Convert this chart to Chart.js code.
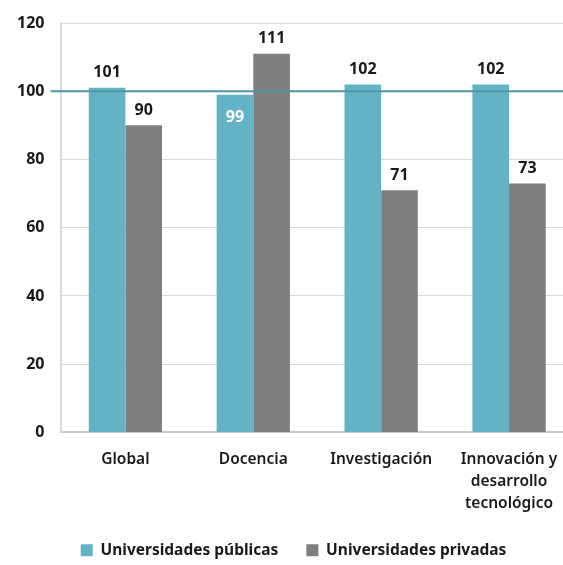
<!DOCTYPE html>
<html>
<head>
<meta charset="utf-8">
<script src="https://cdn.jsdelivr.net/npm/chart.js@4.4.0/dist/chart.umd.min.js"></script>
<style>
  html, body { margin: 0; padding: 0; background: #fff; overflow: hidden; }
  #wrap { width: 575px; height: 565px; position: relative; }
</style>
</head>
<body>
<div id="wrap"><canvas id="chart"></canvas></div>
<script>
const categories = ['Global', 'Docencia', 'Investigación', ['Innovación y', 'desarrollo', 'tecnológico']];
const publicas = [101, 99, 102, 102];
const privadas = [90, 111, 71, 73];
const seriesNames = ['Universidades públicas', 'Universidades privadas'];
const yTicks = [0, 20, 40, 60, 80, 100, 120];
const refValue = 100;

const tealColor = '#63b3c6';
const grayColor = '#7f7f7f';
const refColor = '#4b95a4';
const numFont = '"Open Sans", "DejaVu Sans", sans-serif';
const textFont = '"Noto Sans", "Open Sans", sans-serif';

// reference line at 100, drawn over the bars
const refLine = {
  id: 'refLine',
  afterDatasetsDraw(chart) {
    const ctx = chart.ctx;
    const y = chart.scales.y.getPixelForValue(refValue);
    ctx.save();
    ctx.strokeStyle = refColor;
    ctx.lineWidth = 2;
    ctx.beginPath();
    ctx.moveTo(chart.chartArea.left - 11, y);
    ctx.lineTo(chart.width, y);
    ctx.stroke();
    ctx.restore();
  }
};

// value labels; the one that would sit on the line goes inside the bar
const barLabels = {
  id: 'barLabels',
  afterDraw(chart) {
    const ctx = chart.ctx;
    ctx.save();
    ctx.font = 'bold 16px ' + numFont;
    ctx.textAlign = 'center';
    ctx.textBaseline = 'middle';
    chart.data.datasets.forEach((ds, i) => {
      chart.getDatasetMeta(i).data.forEach((bar, j) => {
        const v = ds.data[j];
        if (i === 0 && v < refValue) {
          ctx.fillStyle = '#ffffff';
          ctx.fillText(v, bar.x, bar.y + 23);
        } else {
          ctx.fillStyle = '#1a1a1a';
          ctx.fillText(v, bar.x, bar.y - 15);
        }
      });
    });
    ctx.restore();
  }
};

// legend sits a little right of the canvas centre in the original
const legendShift = {
  id: 'legendShift',
  afterLayout(chart) {
    chart.legend.left += 7;
    chart.legend.right += 7;
  }
};

new Chart(document.getElementById('chart'), {
  type: 'bar',
  data: {
    labels: categories,
    datasets: [
      { label: seriesNames[0], data: publicas, backgroundColor: tealColor },
      { label: seriesNames[1], data: privadas, backgroundColor: grayColor }
    ]
  },
  options: {
    responsive: true,
    maintainAspectRatio: false,
    animation: false,
    datasets: {
      bar: { categoryPercentage: 0.573, barPercentage: 1 }
    },
    layout: { padding: { left: 0, right: 2, top: 23, bottom: -3 } },
    plugins: {
      tooltip: { enabled: false },
      legend: {
        position: 'bottom',
        labels: {
          boxWidth: 12,
          boxHeight: 12,
          padding: 12,
          color: '#1a1a1a',
          font: { family: textFont, size: 15.5, weight: 'bold' },
          // a bit more room after the first item
          generateLabels(chart) {
            const items = Chart.defaults.plugins.legend.labels.generateLabels(chart);
            items[0].text = items[0].text + '    ';
            return items;
          }
        }
      }
    },
    scales: {
      x: {
        grid: { display: false, drawTicks: false },
        border: { color: '#c8c8c8', width: 2 },
        ticks: {
          color: '#1a1a1a',
          padding: 16,
          maxRotation: 0,
          autoSkip: false,
          font: { family: textFont, size: 15.5, weight: 600, lineHeight: 1.42 }
        }
      },
      y: {
        min: 0,
        max: 120,
        afterBuildTicks(scale) {
          scale.ticks = yTicks.map(v => ({ value: v }));
        },
        afterFit(scale) {
          scale.paddingTop = 0;
          scale.paddingBottom = 0;
        },
        grid: { color: '#d9d9d9', lineWidth: 1, drawTicks: false },
        border: { color: '#d9d9d9', width: 2 },
        ticks: {
          color: '#1a1a1a',
          padding: 17,
          font: { family: numFont, size: 16, weight: 'bold' }
        }
      }
    }
  },
  plugins: [refLine, barLabels, legendShift]
});
</script>
</body>
</html>
